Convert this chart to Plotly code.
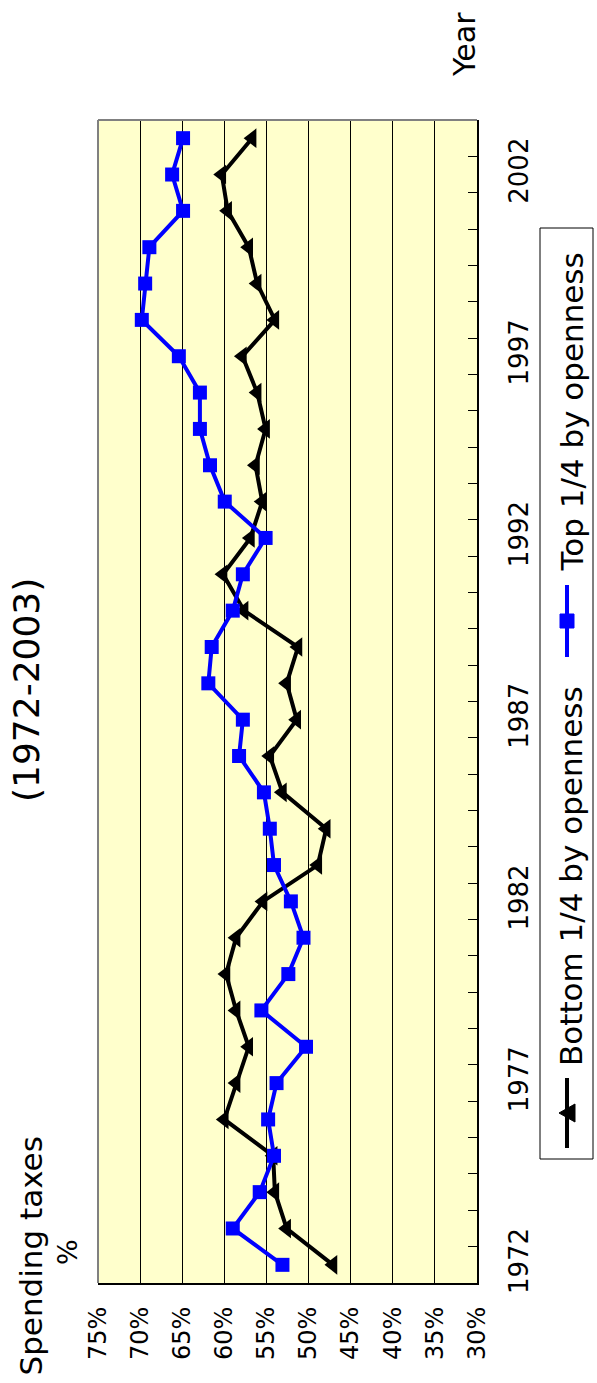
import plotly.graph_objects as go

years = list(range(1972, 2004))
bottom_quarter = [47.1, 52.6, 54.0, 54.2, 60.0, 58.6, 57.1, 58.6, 59.8, 58.6, 55.4, 48.9,
                  47.9, 53.1, 54.6, 51.4, 52.6, 51.25, 57.65, 60.15, 56.9, 55.5, 56.3, 55.1,
                  56.1, 57.85, 54.0, 56.1, 57.1, 59.6, 60.3, 56.7]
top_quarter = [53.1, 59.0, 55.8, 54.1, 54.8, 53.8, 50.3, 55.6, 52.4, 50.6, 52.1, 54.1,
               54.6, 55.3, 58.25, 57.8, 61.9, 61.5, 59.0, 57.8, 55.1, 59.95, 61.7, 62.9,
               62.9, 65.4, 69.8, 69.4, 68.9, 64.9, 66.2, 64.9]
pct_ticks = [75, 70, 65, 60, 55, 50, 45, 40, 35, 30]
pct_labels = ["75%", "70%", "65%", "60%", "55%", "50%", "45%", "40%", "35%", "30%"]
year_ticks = [1972, 1977, 1982, 1987, 1992, 1997, 2002]
year_labels = ["1972", "1977", "1982", "1987", "1992", "1997", "2002"]

W, H = 597, 1383
L, R, T, B = 98, 477, 120, 1283
FONT = "DejaVu Sans"


def px(v):
    return (v - L) / (R - L)


def py(v):
    return (B - v) / (B - T)


fig = go.Figure()
fig.add_trace(go.Scatter(x=bottom_quarter, y=years, mode="lines+markers",
                         line=dict(color="black", width=4),
                         marker=dict(symbol="triangle-left", size=17, color="black"),
                         name="Bottom 1/4 by openness"))
fig.add_trace(go.Scatter(x=top_quarter, y=years, mode="lines+markers",
                         line=dict(color="#0000FF", width=4),
                         marker=dict(symbol="square", size=14, color="#0000FF"),
                         name="Top 1/4 by openness"))

fig.update_layout(
    width=W, height=H,
    margin=dict(l=L, r=W - R, t=T, b=H - B),
    paper_bgcolor="white", plot_bgcolor="#FFFFCC",
    showlegend=False,
    font=dict(family=FONT, color="black"),
    xaxis=dict(range=[75, 30], tickmode="array", tickvals=pct_ticks, ticktext=pct_labels,
               tickangle=-90, tickfont=dict(size=24, family=FONT), ticks="",
               showgrid=True, gridcolor="black", gridwidth=1, zeroline=False,
               showline=True, linecolor="black", linewidth=2, ticklabelstandoff=12),
    yaxis=dict(range=[1971.5, 2003.5], side="right", tickmode="array", tickvals=year_ticks,
               ticktext=year_labels, tickangle=-90, tickfont=dict(size=26, family=FONT),
               ticks="", showgrid=False, zeroline=False, showline=True, linecolor="black",
               linewidth=2, ticklabelstandoff=18,
               minor=dict(tickmode="linear", tick0=1971.5, dtick=1, ticks="inside",
                          ticklen=9, tickcolor="black", tickwidth=1, showgrid=False)),
)

shapes = [
    dict(type="line", xref="paper", yref="paper", x0=0, x1=0, y0=0, y1=1,
         line=dict(color="#808080", width=2), layer="above"),
    dict(type="line", xref="paper", yref="paper", x0=0, x1=1, y0=1, y1=1,
         line=dict(color="#808080", width=2), layer="above"),
    # legend box
    dict(type="rect", xref="paper", yref="paper", x0=px(540), x1=px(593), y0=py(1159), y1=py(228),
         line=dict(color="black", width=1), fillcolor="white"),
    # legend black line + triangle
    dict(type="line", xref="paper", yref="paper", x0=px(567), x1=px(567), y0=py(1148), y1=py(1078),
         line=dict(color="black", width=4)),
    dict(type="path", xref="paper", yref="paper",
         path=f"M {px(559)} {py(1113)} L {px(575)} {py(1104)} L {px(575)} {py(1122)} Z",
         fillcolor="black", line=dict(color="black", width=1)),
    # legend blue line + square
    dict(type="line", xref="paper", yref="paper", x0=px(567), x1=px(567), y0=py(657), y1=py(585),
         line=dict(color="#0000FF", width=4)),
    dict(type="rect", xref="paper", yref="paper", x0=px(560), x1=px(574), y0=py(628), y1=py(614),
         fillcolor="#0000FF", line=dict(color="#0000FF", width=1)),
]
fig.update_layout(shapes=shapes)

ann = [
    dict(text="(1972-2003)", x=px(26), y=py(690), xanchor="center", yanchor="middle", size=36),
    dict(text="Spending taxes", x=px(31), y=py(1378), xanchor="center", yanchor="bottom", size=31),
    dict(text="%", x=px(67), y=py(1252), xanchor="center", yanchor="middle", size=27),
    dict(text="Year", x=px(465), y=py(45), xanchor="center", yanchor="middle", size=30),
    dict(text="Bottom 1/4 by openness", x=px(571), y=py(1068), xanchor="center", yanchor="bottom", size=31),
    dict(text="Top 1/4 by openness", x=px(571), y=py(574), xanchor="center", yanchor="bottom", size=31),
]
fig.update_layout(annotations=[
    dict(text=a["text"], x=a["x"], y=a["y"], xref="paper", yref="paper", xanchor=a["xanchor"],
         yanchor=a["yanchor"], textangle=-90, showarrow=False,
         font=dict(size=a["size"], family=FONT, color="black"))
    for a in ann
])

fig.write_html("out.html", config={"displayModeBar": False},
               post_script="document.body.style.margin='0';")
